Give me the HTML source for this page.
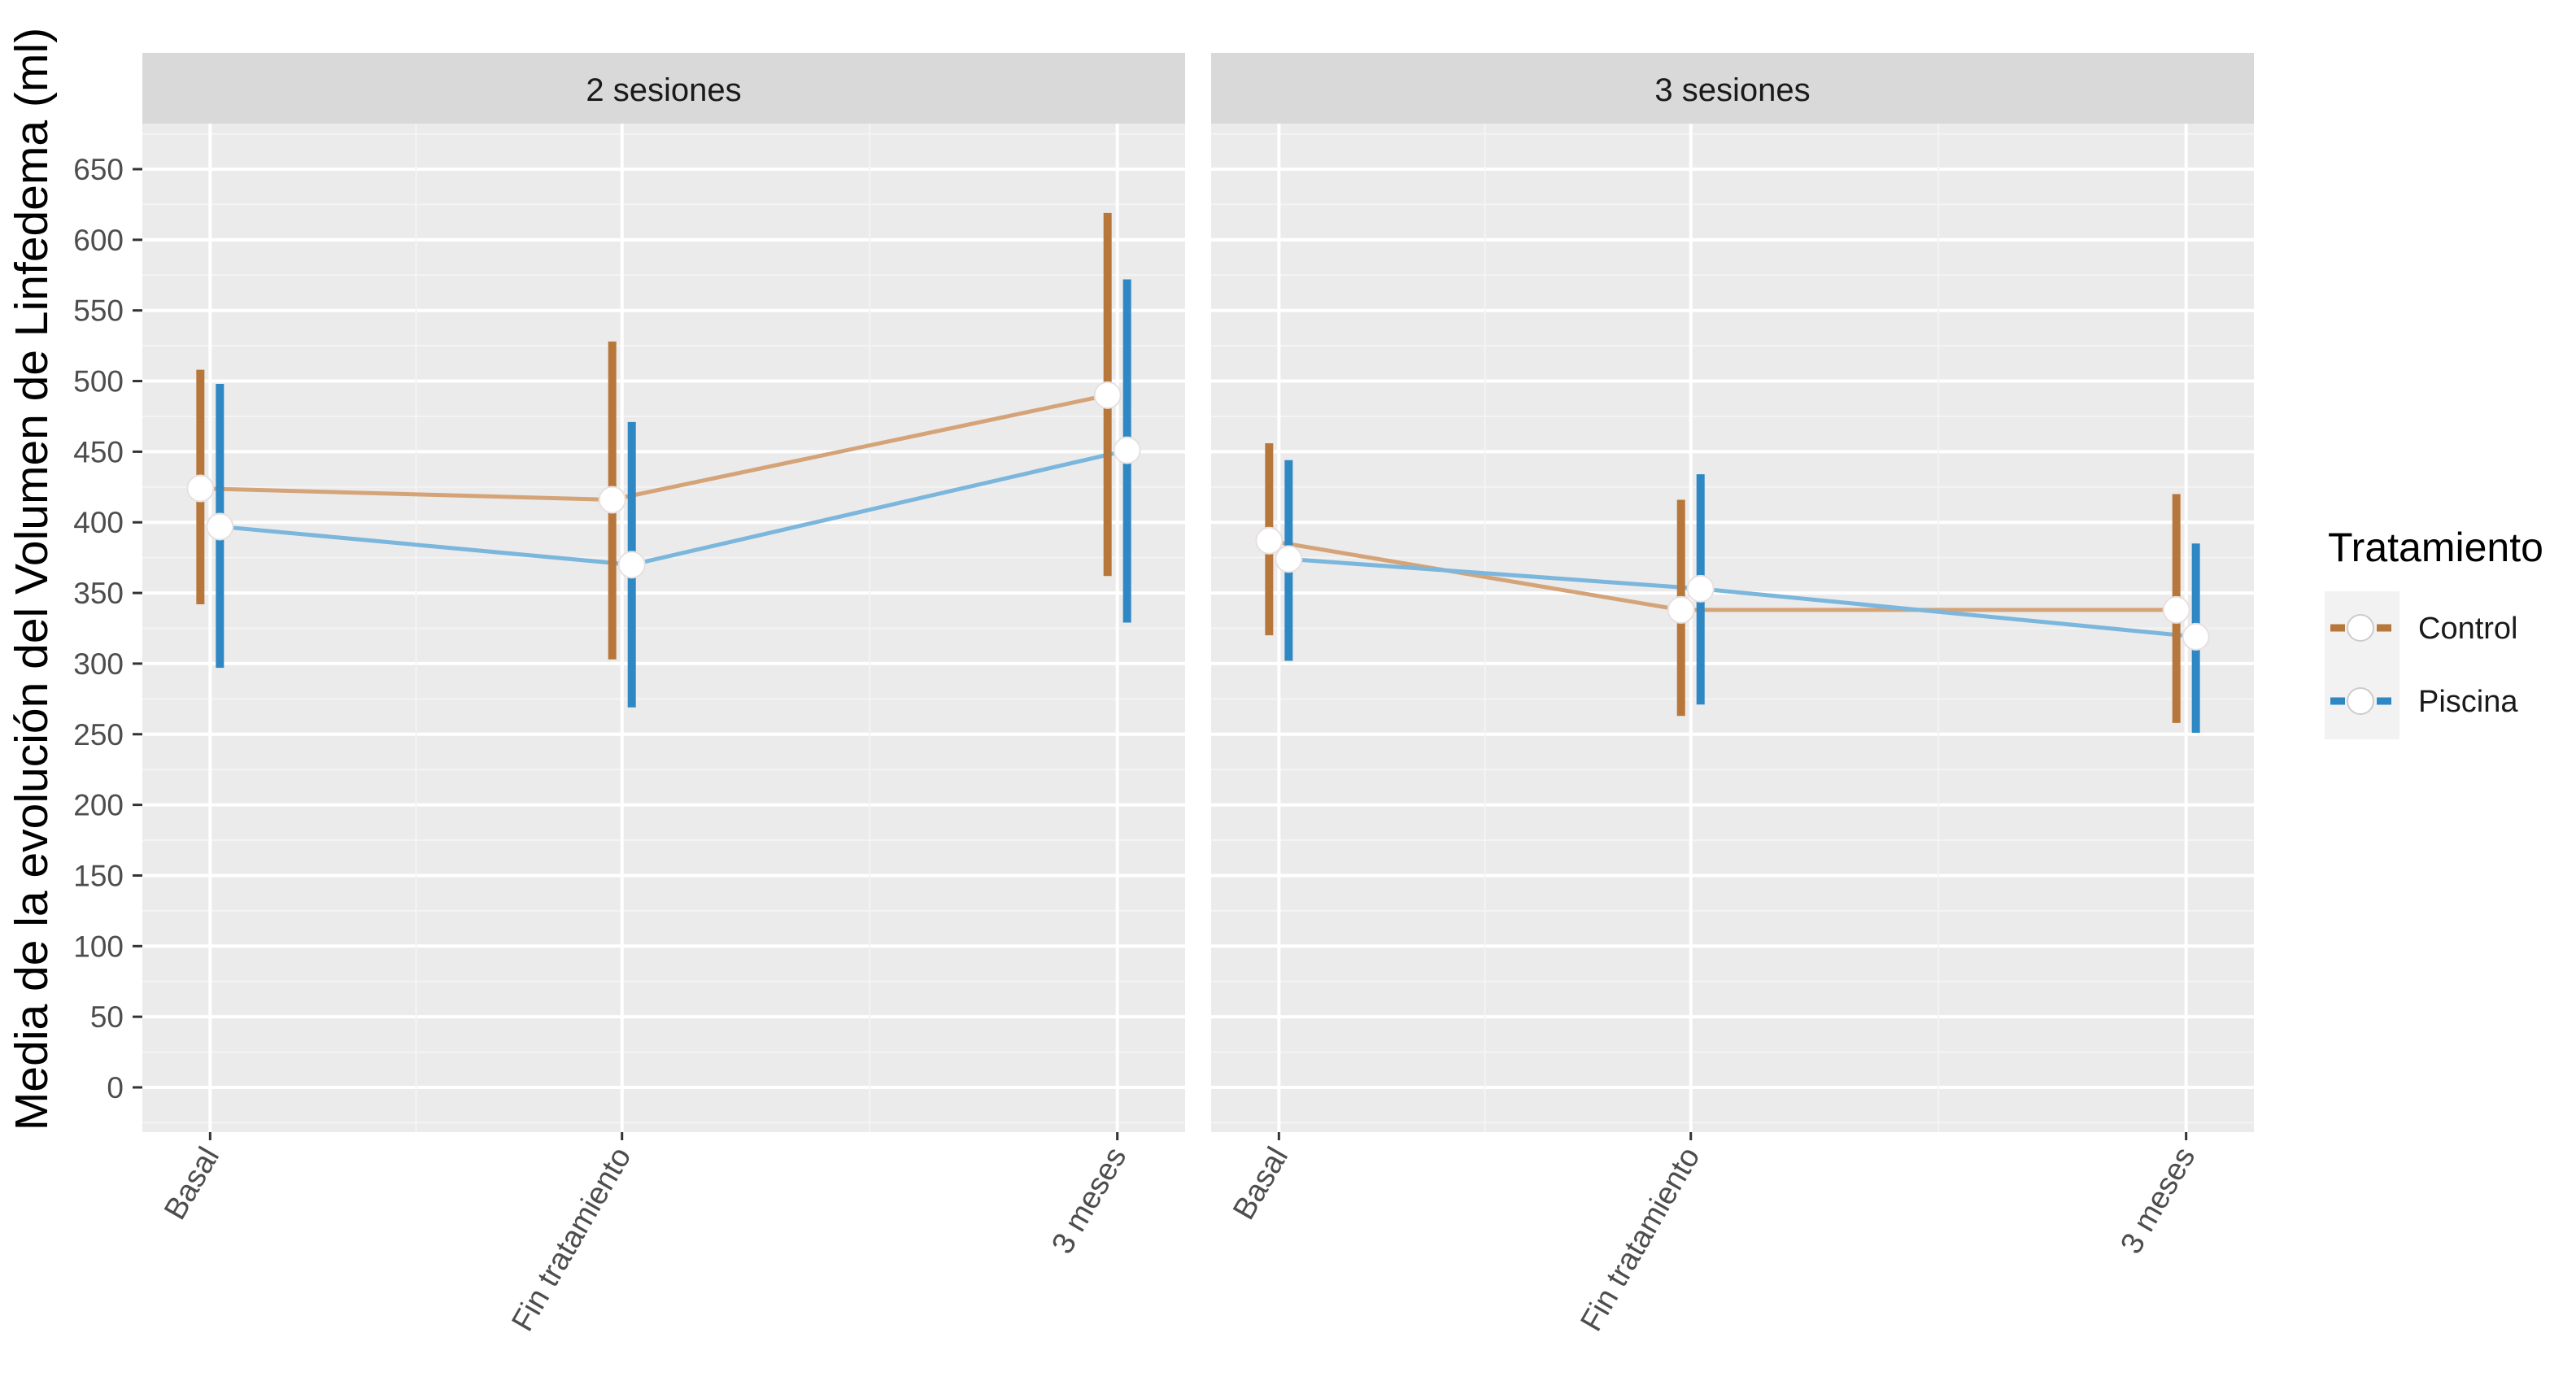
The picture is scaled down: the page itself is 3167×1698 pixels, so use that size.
<!DOCTYPE html>
<html><head><meta charset="utf-8"><style>
html,body{margin:0;padding:0;background:#fff;}
svg{display:block;font-family:"Liberation Sans",Arial,sans-serif;}
</style></head><body>
<svg id="chart" width="3167" height="1698" viewBox="0 0 3167 1698" xmlns="http://www.w3.org/2000/svg"></svg>
<script>
const facets = ["2 sesiones", "3 sesiones"];
const categories = ["Basal", "Fin tratamiento", "3 meses"];
const catPos = [0.065, 0.46, 0.935];
const yTicks = [0,50,100,150,200,250,300,350,400,450,500,550,600,650];
const seriesNames = ["Control", "Piscina"];
// [facet][category]
const controlMean = [[424,416,490],[387,338,338]];
const controlLow  = [[342,303,362],[320,263,258]];
const controlHigh = [[508,528,619],[456,416,420]];
const piscinaMean = [[397,370,451],[374,353,319]];
const piscinaLow  = [[297,269,329],[302,271,251]];
const piscinaHigh = [[498,471,572],[444,434,385]];

const NS="http://www.w3.org/2000/svg";
const svg=document.getElementById('chart');
function mk(tag,attrs,parent,text){const e=document.createElementNS(NS,tag);for(const k in attrs)e.setAttribute(k,attrs[k]);if(text!==undefined)e.textContent=text;(parent||svg).appendChild(e);return e;}

const panelX=[175,1489], panelW=1282, plotTop=152, plotBot=1392, stripTop=65;
const y0px=1337, y650px=208;
function yS(v){return y0px+(v/650)*(y650px-y0px);}
function xS(p,i){return panelX[p]+catPos[i]*panelW;}
const colors={Control:{bar:"#b8773a",line:"#d4a478"},Piscina:{bar:"#2f88c4",line:"#7bb6dc"}};
const dodge=[-12,12];

facets.forEach((f,p)=>{
  const g=mk('g',{},svg);
  
  
  const strip=mk('rect',{x:panelX[p],y:stripTop,width:panelW,height:plotTop-stripTop,fill:'#d9d9d9'},g);
  
  
  const st=mk('text',{x:panelX[p]+panelW/2,y:124,'font-size':40,'text-anchor':'middle',fill:'#1a1a1a'},g,f);
  
  
  const bg=mk('rect',{x:panelX[p],y:plotTop,width:panelW,height:plotBot-plotTop,fill:'#ebebeb'},g);
  
  
  for(let v=-25;v<=675;v+=50){const yy=yS(v);if(yy>plotTop&&yy<plotBot)mk('line',{x1:panelX[p],x2:panelX[p]+panelW,y1:yy,y2:yy,stroke:'#f4f4f4','stroke-width':2},g);}
  yTicks.forEach(v=>{const gl=mk('line',{x1:panelX[p],x2:panelX[p]+panelW,y1:yS(v),y2:yS(v),stroke:'#fff','stroke-width':4},g);
    
    });
  for(let i=0;i<categories.length-1;i++){const xm=(xS(p,i)+xS(p,i+1))/2;mk('line',{x1:xm,x2:xm,y1:plotTop,y2:plotBot,stroke:'#f4f4f4','stroke-width':2},g);}
  categories.forEach((c,i)=>{const x=xS(p,i);
    const gl=mk('line',{x1:x,x2:x,y1:plotTop,y2:plotBot,stroke:'#fff','stroke-width':4},g);
    
    
    mk('line',{x1:x,x2:x,y1:plotBot,y2:plotBot+10,stroke:'#333','stroke-width':3},g);
    const t=mk('text',{x:0,y:0,'font-size':38,'text-anchor':'end',fill:'#4d4d4d',transform:`translate(${x+12},${plotBot+28}) rotate(-60)`},g,c);
    
    
  });
  [[controlMean,'Control'],[piscinaMean,'Piscina']].forEach(([m,name],s)=>{
    const pts=categories.map((c,i)=>[xS(p,i)+dodge[s],yS(m[p][i])]);
    const ln=mk('polyline',{points:pts.map(q=>q.join(',')).join(' '),fill:'none',stroke:colors[name].line,'stroke-width':5},g);
    
    
  });
  [[controlMean,controlLow,controlHigh,'Control'],[piscinaMean,piscinaLow,piscinaHigh,'Piscina']].forEach(([m,lo,hi,name],s)=>{
    categories.forEach((c,i)=>{const x=xS(p,i)+dodge[s];
      const eb=mk('line',{x1:x,x2:x,y1:yS(lo[p][i]),y2:yS(hi[p][i]),stroke:colors[name].bar,'stroke-width':10},g);
      
      
      const pt=mk('circle',{cx:x,cy:yS(m[p][i]),r:16,fill:'#fff',stroke:'#e8e0e0','stroke-width':2},g);
      
      
    });
  });
});
yTicks.forEach(v=>{
  mk('line',{x1:163,x2:175,y1:yS(v),y2:yS(v),stroke:'#333','stroke-width':3});
  const t=mk('text',{x:152,y:yS(v)+13,'font-size':37,'text-anchor':'end',fill:'#4d4d4d'},svg,String(v));
  
  
});
const yt=mk('text',{x:0,y:0,'font-size':57,'text-anchor':'middle',fill:'#000',transform:'translate(58,712) rotate(-90)'},svg,'Media de la evolución del Volumen de Linfedema (ml)');


const lg=mk('g',{},svg);


const lt=mk('text',{x:2862,y:690,'font-size':50,fill:'#000'},lg,'Tratamiento');


mk('rect',{x:2858,y:727,width:92,height:182,fill:'#f2f2f2'},lg);
seriesNames.forEach((n,i)=>{const cy=772+i*90;
  const e=mk('g',{},lg);
  
  
  mk('line',{x1:2865,x2:2940,y1:cy,y2:cy,stroke:colors[n].bar,'stroke-width':9,'stroke-dasharray':'18 39'},e);
  mk('circle',{cx:2902,cy:cy,r:16,fill:'#fff',stroke:'#ccc','stroke-width':2},e);
  mk('text',{x:2973,y:cy+13,'font-size':38,fill:'#1a1a1a'},e,n);
});
</script>
</body></html>
